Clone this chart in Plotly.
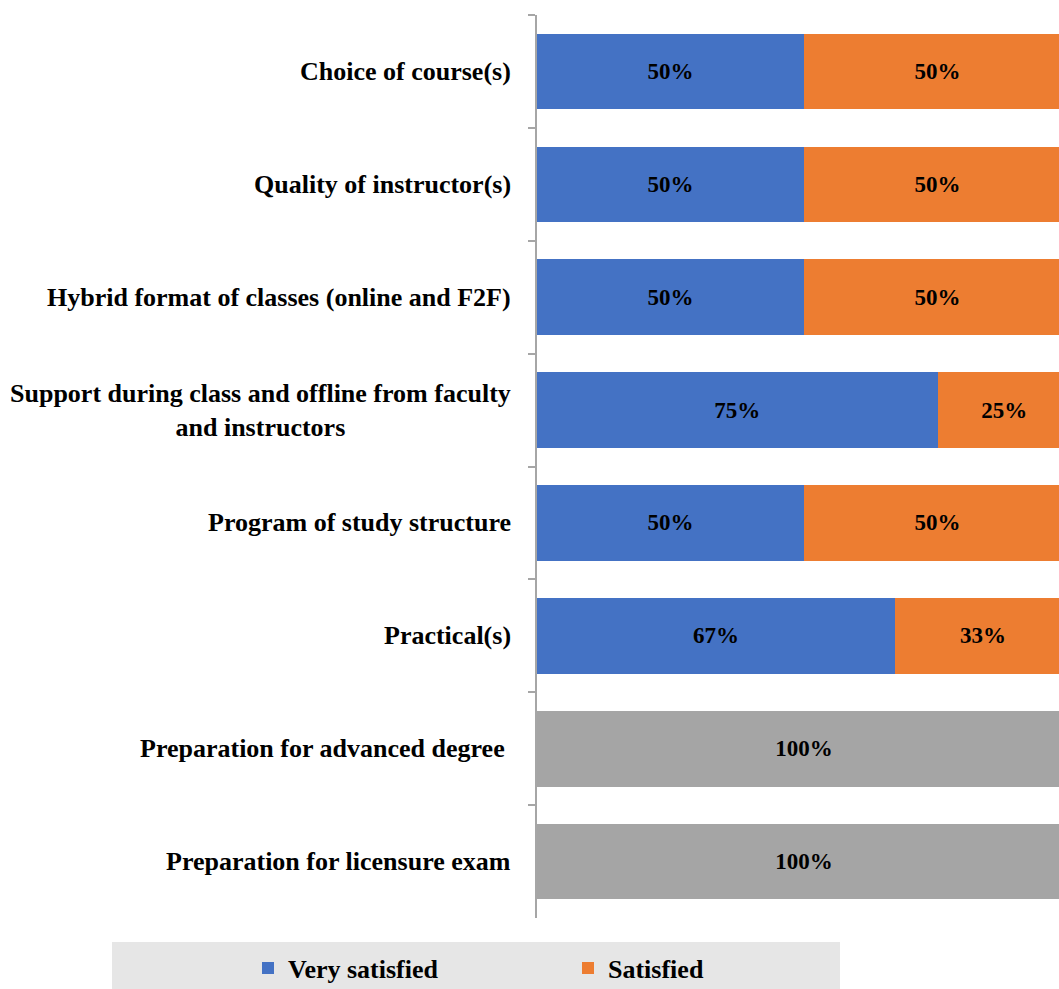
import plotly.graph_objects as go

# Survey items, top to bottom
categories = [
    "Choice of course(s)",
    "Quality of instructor(s)",
    "Hybrid format of classes (online and F2F)",
    "Support during class and offline from faculty<br>and instructors",
    "Program of study structure",
    "Practical(s)",
    "Preparation for advanced degree ",
    "Preparation for licensure exam",
]

# Share of respondents (%) per rating
very_satisfied = [50, 50, 50, 75, 50, 67, None, None]
satisfied = [50, 50, 50, 25, 50, 33, None, None]
other = [None, None, None, None, None, None, 100, 100]

FONT = "Liberation Serif"
label_font = dict(family=FONT, size=23, color="black", weight="bold")
legend_font = dict(family=FONT, size=26, color="black", weight="bold")

fig = go.Figure()


def add_series(name, values, color, legend):
    fig.add_trace(go.Bar(
        name=name,
        y=categories,
        x=values,
        orientation="h",
        marker=dict(color=color, line=dict(width=0)),
        text=[f"{v}%" if v is not None else "" for v in values],
        textposition="inside",
        insidetextanchor="middle",
        textangle=0,
        constraintext="none",
        textfont=label_font,
        showlegend=legend is not None,
        legend=legend or "legend",
        hoverinfo="skip",
    ))


add_series("Very satisfied", very_satisfied, "#4472c4", "legend")
add_series("Satisfied", satisfied, "#ed7d31", "legend2")
add_series("Other", other, "#a5a5a5", None)

# Category labels, centred line by line to the left of the axis
for cat in categories:
    fig.add_annotation(
        x=0, xref="paper", xanchor="right", xshift=-24,
        y=cat, yref="y", yanchor="middle",
        text=cat, showarrow=False, align="center",
        font=dict(family=FONT, size=26, color="black", weight="bold"),
    )

# Grey band behind the legend
fig.add_shape(
    type="rect", xref="paper", yref="paper",
    x0=(112 - 537) / 522, x1=(840 - 537) / 522,
    y0=-0.12, y1=-(942 - 918) / 903,
    fillcolor="#e6e6e6", line=dict(width=0), layer="below",
)


def legend_box(left_px):
    return dict(
        orientation="h",
        xref="container", yref="container",
        x=left_px / 1059, xanchor="left",
        y=1 - 968 / 989, yanchor="middle",
        bgcolor="rgba(0,0,0,0)",
        font=legend_font,
    )


fig.update_layout(
    width=1059, height=989,
    margin=dict(l=537, r=0, t=15, b=71),
    barmode="stack",
    bargap=0.33,
    paper_bgcolor="white",
    plot_bgcolor="white",
    showlegend=True,
    legend=legend_box(248),
    legend2=legend_box(568),
    xaxis=dict(visible=False, range=[0, 97.75], fixedrange=True),
    yaxis=dict(
        categoryorder="array", categoryarray=categories,
        autorange="reversed",
        showticklabels=False,
        showline=True, linecolor="#a6a6a6", linewidth=1.5,
        ticks="outside", ticklen=7, tickcolor="#a6a6a6", tickwidth=1.5,
        tickson="boundaries",
        showgrid=False, zeroline=False,
    ),
)

fig.write_html("out.html")
